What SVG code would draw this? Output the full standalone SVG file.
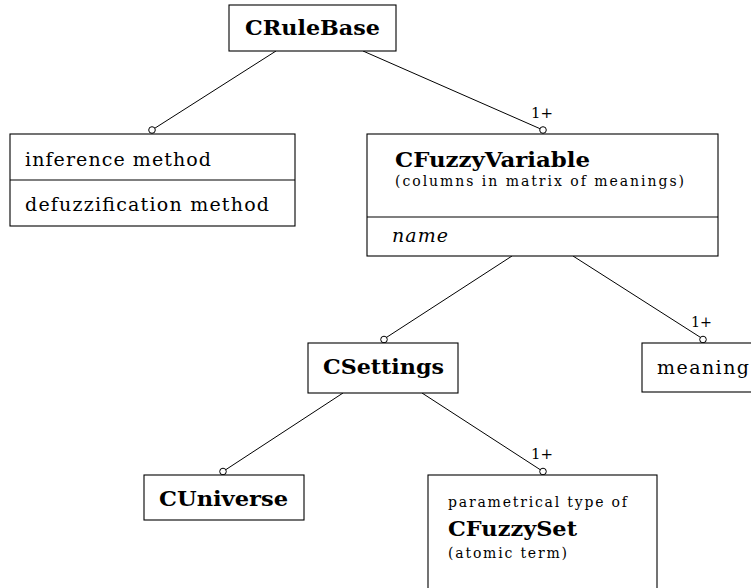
<svg xmlns="http://www.w3.org/2000/svg" width="751" height="588" viewBox="0 0 751 588">
<style>
  .box { fill: #fff; stroke: #000; stroke-width: 1.1; }
  .div { stroke: #000; stroke-width: 1.1; }
  .conn line { stroke: #000; stroke-width: 1; }
  .end { fill: #fff; stroke: #000; stroke-width: 1; }
  text { font-family: "DejaVu Serif", "Liberation Serif", serif; fill: #000; }
  .big { font-size: 20px; font-weight: bold; }
  .bigger { font-size: 21px; font-weight: bold; }
  .reg { font-size: 19px; }
  .small { font-size: 14px; }
  .mult { font-size: 14px; }
  .it { font-size: 19px; font-style: italic; }
</style>
<rect width="751" height="588" fill="#fff"/>
<g id="connectors" class="conn">
  <line x1="276" y1="51" x2="152" y2="130"/>
  <line x1="363" y1="51" x2="543" y2="130"/>
  <line x1="512" y1="256" x2="384" y2="339"/>
  <line x1="573" y1="256" x2="703" y2="339"/>
  <line x1="343" y1="393" x2="223" y2="471.5"/>
  <line x1="422" y1="393" x2="543" y2="471.5"/>
  <circle class="end" cx="152" cy="130" r="3.3"/>
  <circle class="end" cx="543" cy="130" r="3.3"/>
  <circle class="end" cx="384" cy="339.5" r="3.3"/>
  <circle class="end" cx="703" cy="339.5" r="3.3"/>
  <circle class="end" cx="223" cy="471.5" r="3.3"/>
  <circle class="end" cx="543" cy="471.5" r="3.3"/>
  <text class="mult" x="531" y="118" textLength="22" lengthAdjust="spacingAndGlyphs">1+</text>
  <text class="mult" x="691" y="327" textLength="21" lengthAdjust="spacingAndGlyphs">1+</text>
  <text class="mult" x="531" y="459" textLength="22" lengthAdjust="spacingAndGlyphs">1+</text>
</g>
<g id="CRuleBase">
  <rect class="box" x="229" y="5" width="167" height="46"/>
  <text class="big" x="245" y="35" textLength="135" lengthAdjust="spacingAndGlyphs">CRuleBase</text>
</g>
<g id="methods">
  <rect class="box" x="10" y="134" width="285" height="92"/>
  <line class="div" x1="10" y1="180" x2="295" y2="180"/>
  <text class="reg" x="25" y="166" textLength="186" lengthAdjust="spacing">inference method</text>
  <text class="reg" x="25" y="211" textLength="244" lengthAdjust="spacing">defuzzification method</text>
</g>
<g id="CFuzzyVariable">
  <rect class="box" x="367" y="134" width="351" height="122"/>
  <line class="div" x1="367" y1="217" x2="718" y2="217"/>
  <text class="big" x="395" y="167" textLength="195" lengthAdjust="spacingAndGlyphs">CFuzzyVariable</text>
  <text class="small" x="395" y="186" textLength="289" lengthAdjust="spacing">(columns in matrix of meanings)</text>
  <text class="it" x="392" y="242" textLength="56" lengthAdjust="spacing">name</text>
</g>
<g id="CSettings">
  <rect class="box" x="308" y="343" width="150" height="50"/>
  <text class="big" x="323" y="374" textLength="121" lengthAdjust="spacingAndGlyphs">CSettings</text>
</g>
<g id="meaning">
  <rect class="box" x="642" y="343" width="120" height="49"/>
  <text class="reg" x="657" y="374" textLength="92" lengthAdjust="spacing">meaning</text>
</g>
<g id="CUniverse">
  <rect class="box" x="144" y="475" width="160" height="45"/>
  <text class="big" x="159" y="506" textLength="129" lengthAdjust="spacingAndGlyphs">CUniverse</text>
</g>
<g id="CFuzzySet">
  <rect class="box" x="428" y="475" width="229" height="130"/>
  <text class="small" x="448" y="507" textLength="179" lengthAdjust="spacing">parametrical type of</text>
  <text class="bigger" x="448" y="536" textLength="129" lengthAdjust="spacingAndGlyphs">CFuzzySet</text>
  <text class="small" x="448" y="558" textLength="119" lengthAdjust="spacing">(atomic term)</text>
</g>
</svg>
